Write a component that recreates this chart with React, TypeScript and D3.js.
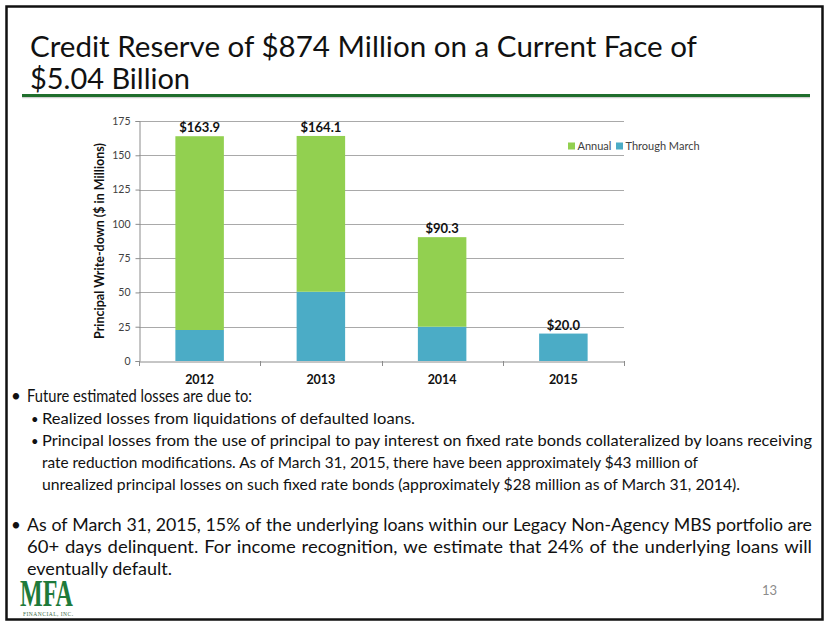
import { useEffect, useRef } from 'react';
import * as d3 from 'd3';

// chart data
const years = ['2012', '2013', '2014', '2015'];
const throughMarch = [22.6, 50.5, 25.0, 20.0];
const annual = [141.3, 113.6, 65.3, 0];
const yTicks = [0, 25, 50, 75, 100, 125, 150, 175];
const legendNames = ['Annual', 'Through March'];
const seriesColors: Record<string, string> = { 'Through March': '#4BACC6', Annual: '#92D050' };

const titleLines = ['Credit Reserve of $874 Million on a Current Face of', '$5.04 Billion'];

const bodyText = [
  'Future estimated losses are due to:',
  'Realized losses from liquidations of defaulted loans.',
  'Principal losses from the use of principal to pay interest on fixed rate bonds collateralized by loans receiving',
  'rate reduction modifications. As of March 31, 2015, there have been approximately $43 million of',
  'unrealized principal losses on such fixed rate bonds (approximately $28 million as of March 31, 2014).',
  'As of March 31, 2015, 15% of the underlying loans within our Legacy Non-Agency MBS portfolio are',
  '60+ days delinquent. For income recognition, we estimate that 24% of the underlying loans will',
  'eventually default.',
];

const FONT = "Lato, 'Open Sans', sans-serif";

const App = () => {
  const svgRef = useRef<SVGSVGElement>(null);

  useEffect(() => {
    const width = 830;
    const height = 623;
    const root = d3.select(svgRef.current);
    root.selectAll('*').remove();
    const svg = root.attr('width', width).attr('height', height).attr('font-family', FONT);

    svg.append('rect').attr('width', width).attr('height', height).attr('fill', '#fff');

    // slide frame
    svg.append('rect')
      .attr('x', 6.5).attr('y', 6.5)
      .attr('width', 816).attr('height', 613)
      .attr('fill', 'none')
      .attr('stroke', '#111')
      .attr('stroke-width', 2.5);

    // title
    const titleEnds = [697, 190];
    titleLines.forEach((t, i) => {
      svg.append('text')
        .attr('x', 30)
        .attr('y', 57 + i * 32)
        .attr('font-size', 28)
        .attr('fill', '#111')
        .attr('textLength', titleEnds[i] - 30)
        .attr('lengthAdjust', 'spacingAndGlyphs')
        .text(t);
    });
    svg.append('line')
      .attr('x1', 22).attr('x2', 810).attr('y1', 97.5).attr('y2', 97.5)
      .attr('stroke', '#cfcfcf').attr('stroke-width', 1.5);
    svg.append('line')
      .attr('x1', 22).attr('x2', 810).attr('y1', 95.5).attr('y2', 95.5)
      .attr('stroke', '#1F6E2C').attr('stroke-width', 3);

    // ---- chart ----
    const plot = { left: 139, right: 624, top: 121, bottom: 361 };

    const xScale = d3.scaleBand().domain(years).range([plot.left, plot.right]).padding(0);
    const yScale = d3.scaleLinear().domain([0, 175]).range([plot.bottom, plot.top]);

    const table = years.map((y, i) => ({ year: y, 'Through March': throughMarch[i], Annual: annual[i] }));
    const stacked = d3.stack<any>().keys(['Through March', 'Annual'])(table);

    const chart = svg.append('g');

    // grid lines
    chart.append('g')
      .selectAll('line')
      .data(yTicks.filter(t => t > 0))
      .enter()
      .append('line')
      .attr('x1', plot.left).attr('x2', plot.right)
      .attr('y1', d => Math.round(yScale(d)) + 0.5)
      .attr('y2', d => Math.round(yScale(d)) + 0.5)
      .attr('stroke', '#A9A9A9')
      .attr('stroke-width', 1);

    // bars
    const barW = xScale.bandwidth() * 0.4;
    chart.append('g')
      .selectAll('g')
      .data(stacked)
      .enter()
      .append('g')
      .attr('fill', d => seriesColors[d.key])
      .selectAll('rect')
      .data(d => d)
      .enter()
      .append('rect')
      .attr('x', d => (xScale(d.data.year) || 0) + (xScale.bandwidth() - barW) / 2)
      .attr('y', d => yScale(d[1]))
      .attr('width', barW)
      .attr('height', d => yScale(d[0]) - yScale(d[1]));

    // y axis
    const yAxis = chart.append('g')
      .attr('transform', `translate(${plot.left + 0.5},0)`)
      .call(d3.axisLeft(yScale).tickValues(yTicks).tickSize(4).tickPadding(5));
    yAxis.select('.domain').attr('stroke', '#8C8C8C');
    yAxis.selectAll('.tick line').attr('stroke', '#8C8C8C');
    yAxis.selectAll('.tick text')
      .attr('font-family', FONT)
      .attr('font-size', 10.5)
      .attr('fill', '#404040');

    // x axis
    const xAxis = chart.append('g')
      .attr('transform', `translate(0,${plot.bottom + 0.5})`)
      .call(d3.axisBottom(xScale).tickSize(0).tickPadding(14));
    xAxis.select('.domain').attr('stroke', '#8C8C8C');
    xAxis.selectAll('.tick text')
      .attr('font-family', FONT)
      .attr('font-size', 12.5)
      .attr('font-weight', 'bold')
      .attr('fill', '#111');
    // category separators
    chart.append('g')
      .selectAll('line')
      .data([...years.map(y => xScale(y) || 0), plot.right])
      .enter()
      .append('line')
      .attr('x1', d => Math.round(d) + 0.5).attr('x2', d => Math.round(d) + 0.5)
      .attr('y1', plot.bottom).attr('y2', plot.bottom + 5)
      .attr('stroke', '#8C8C8C');

    // y axis title
    chart.append('text')
      .attr('transform', `translate(104,${(plot.top + plot.bottom) / 2}) rotate(-90)`)
      .attr('text-anchor', 'middle')
      .attr('font-size', 12.5)
      .attr('font-weight', 'bold')
      .attr('fill', '#111')
      .text('Principal Write-down ($ in Millions)');

    // total labels
    const fmt = d3.format('$.1f');
    chart.append('g')
      .selectAll('text')
      .data(table)
      .enter()
      .append('text')
      .attr('x', d => (xScale(d.year) || 0) + xScale.bandwidth() / 2)
      .attr('y', d => yScale(d['Through March'] + d.Annual) - 4)
      .attr('text-anchor', 'middle')
      .attr('font-size', 13)
      .attr('font-weight', 'bold')
      .attr('fill', '#111')
      .text(d => fmt(d['Through March'] + d.Annual));

    // legend
    const legend = chart.append('g').attr('transform', 'translate(568,146)');
    const legendX = [0, 48];
    legendNames.forEach((name, i) => {
      const item = legend.append('g').attr('transform', `translate(${legendX[i]},0)`);
      item.append('rect').attr('x', 0).attr('y', -3.5).attr('width', 7).attr('height', 7).attr('fill', seriesColors[name]);
      item.append('text')
        .attr('x', 9.5)
        .attr('y', 4)
        .attr('font-size', 11)
        .attr('fill', '#404040')
        .text(name);
    });

    // ---- body text ----
    const body = svg.append('g').attr('fill', '#111');

    // glyph compression factor to get Calibri-like widths
    const probe = body.append('text').attr('font-size', 16).text(bodyText[2]);
    const k = 770 / ((probe.node() as SVGTextElement).getComputedTextLength() || 770);
    probe.remove();

    const baselines = [402, 424, 446, 468, 490, 531, 553, 575];
    const sizes = [16.5, 16, 16, 16, 16, 18, 18, 18];
    const starts = [27, 42, 42, 42, 42, 27, 27, 27];
    const ends = [252, 415, 812, 698, 740, 812, 812, 172];
    const justified = [false, false, false, false, false, true, true, false];
    const bullets = [
      { line: 0, x: 11, size: 17 },
      { line: 1, x: 31, size: 13 },
      { line: 2, x: 31, size: 13 },
      { line: 5, x: 11, size: 17 },
    ];

    bullets.forEach(b => {
      body.append('text')
        .attr('x', b.x)
        .attr('y', baselines[b.line])
        .attr('font-size', b.size)
        .text('•');
    });

    bodyText.forEach((line, i) => {
      if (!justified[i]) {
        body.append('text')
          .attr('x', starts[i])
          .attr('y', baselines[i])
          .attr('font-size', sizes[i])
          .attr('textLength', ends[i] - starts[i])
          .attr('lengthAdjust', 'spacingAndGlyphs')
          .text(line);
        return;
      }
      // justified line: place words one by one, spread over the full width
      const words = line.split(' ');
      let widths = words.map(w => {
        const t = body.append('text').attr('font-size', sizes[i]).text(w);
        const wd = (t.node() as SVGTextElement).getComputedTextLength() * k;
        t.remove();
        return wd;
      });
      const avail = ends[i] - starts[i];
      const minGap = sizes[i] * 0.26;
      const total = d3.sum(widths);
      if (total + minGap * (words.length - 1) > avail) {
        const s = (avail - minGap * (words.length - 1)) / total;
        widths = widths.map(w => w * s);
      }
      const gap = (avail - d3.sum(widths)) / (words.length - 1);
      let x = starts[i];
      words.forEach((w, j) => {
        body.append('text')
          .attr('x', x)
          .attr('y', baselines[i])
          .attr('font-size', sizes[i])
          .attr('textLength', widths[j])
          .attr('lengthAdjust', 'spacingAndGlyphs')
          .text(w);
        x += widths[j] + gap;
      });
    });

    // page number
    svg.append('text')
      .attr('x', 777)
      .attr('y', 595)
      .attr('text-anchor', 'end')
      .attr('font-size', 13)
      .attr('fill', '#8C8C8C')
      .text('13');

    // logo
    const logo = svg.append('g').attr('fill', '#1E7A3A').attr('font-family', "'Liberation Serif', 'DejaVu Serif', serif");
    logo.append('text')
      .attr('x', 20)
      .attr('y', 606)
      .attr('font-size', 38)
      .attr('font-weight', 'bold')
      .attr('textLength', 53)
      .attr('lengthAdjust', 'spacingAndGlyphs')
      .text('MFA');
    logo.append('text')
      .attr('x', 23)
      .attr('y', 616)
      .attr('font-size', 5.5)
      .attr('fill', '#3D6B48')
      .attr('textLength', 50)
      .attr('lengthAdjust', 'spacing')
      .text('FINANCIAL, INC.');
  }, []);

  return (
    <svg
      ref={svgRef}
      style={{ position: 'absolute', left: 0, top: 0, display: 'block' }}
      width={830}
      height={623}
    />
  );
};

export default App;
